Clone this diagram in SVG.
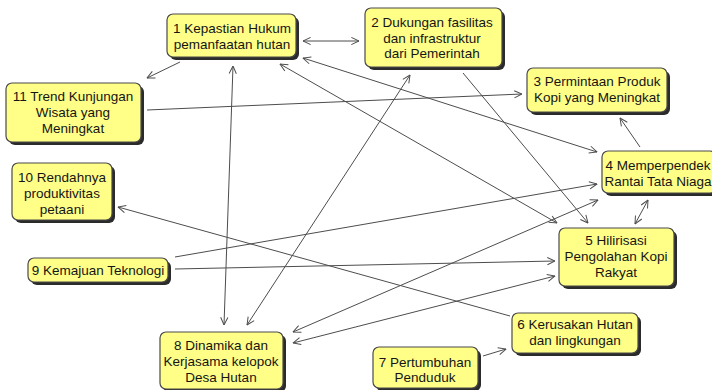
<svg xmlns="http://www.w3.org/2000/svg" width="712" height="390" viewBox="0 0 712 390">
  <style>
    .shadow { fill: #2b2b2b; }
    .box { fill: #ffff88; stroke: #4a4a4a; stroke-width: 1.2; }
    .lbl { font-family: "Liberation Sans", Arial, sans-serif; font-size: 13.5px; fill: #151515; text-anchor: middle; }
    .conn path { fill: none; stroke: #4d4d4d; stroke-width: 1; }
  </style>
  <defs>
    <marker id="arr" viewBox="0 0 10 10" refX="9.5" refY="5" markerWidth="9" markerHeight="9" orient="auto-start-reverse" markerUnits="userSpaceOnUse">
      <path d="M1,1 L9.5,5 L1,9" fill="none" stroke="#4d4d4d" stroke-width="1.1"/>
    </marker>
  </defs>
  <rect width="712" height="390" fill="#ffffff"/>

  <!-- connectors -->
  <g id="connectors" class="conn">
    <path d="M303,41 L359,41" marker-start="url(#arr)" marker-end="url(#arr)"/>
    <path d="M180,62 L147,78" marker-end="url(#arr)"/>
    <path d="M233,66 L224,325" marker-start="url(#arr)" marker-end="url(#arr)"/>
    <path d="M247,325 L410,75" marker-start="url(#arr)" marker-end="url(#arr)"/>
    <path d="M303,58 L597,152" marker-start="url(#arr)" marker-end="url(#arr)"/>
    <path d="M280,64 L557,223" marker-start="url(#arr)" marker-end="url(#arr)"/>
    <path d="M463,73 L588,223" marker-end="url(#arr)"/>
    <path d="M640,147 L620,118" marker-end="url(#arr)"/>
    <path d="M648,200 L635,224" marker-start="url(#arr)" marker-end="url(#arr)"/>
    <path d="M175,257 L597,184" marker-end="url(#arr)"/>
    <path d="M175,269 L555,261" marker-end="url(#arr)"/>
    <path d="M293,332 L598,200" marker-start="url(#arr)" marker-end="url(#arr)"/>
    <path d="M293,343 L555,276" marker-start="url(#arr)" marker-end="url(#arr)"/>
    <path d="M510,316 L118,207" marker-end="url(#arr)"/>
    <path d="M483,356 L506,349" marker-end="url(#arr)"/>
    <path d="M147,110 L522,94" marker-end="url(#arr)"/>
  </g>

  <!-- nodes -->
  <g id="n1">
    <rect class="shadow" x="170" y="17" width="129" height="43" rx="6"/>
    <rect class="box" x="167" y="14" width="129" height="43" rx="6"/>
    <text class="lbl" x="232" y="33">1 Kepastian Hukum</text>
    <text class="lbl" x="232" y="49">pemanfaatan hutan</text>
  </g>
  <g id="n2">
    <rect class="shadow" x="368" y="11" width="137" height="59" rx="6"/>
    <rect class="box" x="365" y="8" width="137" height="59" rx="6"/>
    <text class="lbl" x="432" y="27">2 Dukungan fasilitas</text>
    <text class="lbl" x="432" y="42.5">dan infrastruktur</text>
    <text class="lbl" x="432" y="58">dari Pemerintah</text>
  </g>
  <g id="n3">
    <rect class="shadow" x="530" y="71" width="140" height="44" rx="6"/>
    <rect class="box" x="527" y="68" width="140" height="44" rx="6"/>
    <text class="lbl" x="597" y="86">3 Permintaan Produk</text>
    <text class="lbl" x="597" y="102">Kopi yang Meningkat</text>
  </g>
  <g id="n4">
    <rect class="shadow" x="605" y="154" width="114" height="42" rx="6"/>
    <rect class="box" x="602" y="151" width="114" height="42" rx="6"/>
    <text class="lbl" x="658" y="170">4 Memperpendek</text>
    <text class="lbl" x="658" y="186">Rantai Tata Niaga</text>
  </g>
  <g id="n5">
    <rect class="shadow" x="562" y="231" width="115" height="58" rx="6"/>
    <rect class="box" x="559" y="228" width="115" height="58" rx="6"/>
    <text class="lbl" x="616" y="245">5 Hilirisasi</text>
    <text class="lbl" x="616" y="261">Pengolahan Kopi</text>
    <text class="lbl" x="616" y="277">Rakyat</text>
  </g>
  <g id="n6">
    <rect class="shadow" x="515" y="316" width="126" height="40" rx="6"/>
    <rect class="box" x="512" y="313" width="126" height="40" rx="6"/>
    <text class="lbl" x="575" y="329">6 Kerusakan Hutan</text>
    <text class="lbl" x="575" y="345">dan lingkungan</text>
  </g>
  <g id="n7">
    <rect class="shadow" x="376" y="350" width="105" height="41" rx="6"/>
    <rect class="box" x="373" y="347" width="105" height="41" rx="6"/>
    <text class="lbl" x="425" y="367">7 Pertumbuhan</text>
    <text class="lbl" x="425" y="382">Penduduk</text>
  </g>
  <g id="n8">
    <rect class="shadow" x="163" y="335" width="123" height="57" rx="6"/>
    <rect class="box" x="160" y="332" width="123" height="57" rx="6"/>
    <text class="lbl" x="221" y="350">8 Dinamika dan</text>
    <text class="lbl" x="221" y="366">Kerjasama kelopok</text>
    <text class="lbl" x="221" y="382">Desa Hutan</text>
  </g>
  <g id="n9">
    <rect class="shadow" x="31" y="261" width="140" height="24" rx="6"/>
    <rect class="box" x="28" y="258" width="140" height="24" rx="6"/>
    <text class="lbl" x="98" y="275">9 Kemajuan Teknologi</text>
  </g>
  <g id="n10">
    <rect class="shadow" x="15" y="166" width="100" height="57" rx="6"/>
    <rect class="box" x="12" y="163" width="100" height="57" rx="6"/>
    <text class="lbl" x="62" y="182">10 Rendahnya</text>
    <text class="lbl" x="62" y="198">produktivitas</text>
    <text class="lbl" x="62" y="214">petaani</text>
  </g>
  <g id="n11">
    <rect class="shadow" x="9" y="86" width="135" height="59" rx="6"/>
    <rect class="box" x="6" y="83" width="135" height="59" rx="6"/>
    <text class="lbl" x="73" y="101">11 Trend Kunjungan</text>
    <text class="lbl" x="73" y="117">Wisata yang</text>
    <text class="lbl" x="73" y="133">Meningkat</text>
  </g>
</svg>
